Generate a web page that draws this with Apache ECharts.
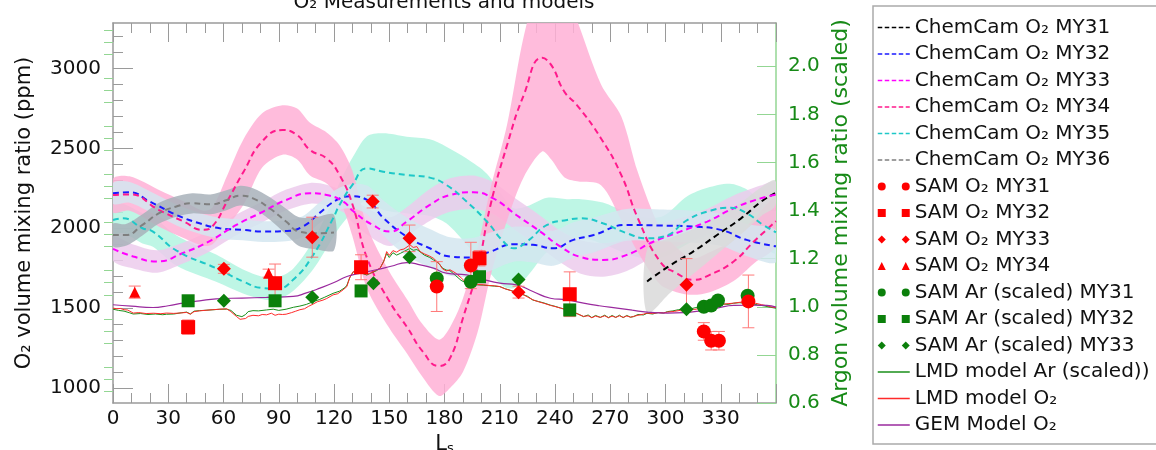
<!DOCTYPE html>
<html><head><meta charset="utf-8">
<script src="https://cdn.jsdelivr.net/npm/echarts@6/dist/echarts.min.js"></script>
<style>html,body{margin:0;padding:0;background:#fff}#c{width:1156px;height:450px}</style>
</head><body><div id="c"></div>
<script>
// ---------- tick labels ----------
const o2MajorTicks = [1000, 1500, 2000, 2500, 3000];
const o2MinorTicks = [1100,1200,1300,1400,1600,1700,1800,1900,2100,2200,2300,2400,2600,2700,2800,2900,3100,3200];
const arMajorTicks = [0.6, 0.8, 1.0, 1.2, 1.4, 1.6, 1.8, 2.0];
const arMinorTicks = [0.65,0.7,0.75,0.85,0.9,0.95,1.05,1.1,1.15,1.25,1.3,1.35,1.45,1.5,1.55,1.65,1.7,1.75,1.85,1.9,1.95,2.05,2.1,2.15];

// ---------- ChemCam O2 (Ls, centre, lower, upper) ----------
const cc31_x  = [290, 303, 315, 328, 341, 352, 359.5];
const cc31_c  = [1667, 1771, 1854, 1958, 2062, 2167, 2219];
const cc31_lo = [1467, 1601, 1714, 1838, 1962, 2077, 2139];
const cc31_hi = [1867, 1941, 1994, 2078, 2162, 2257, 2299];

const cc32_x  = [0, 9, 20, 34.5, 47, 58, 70.5, 81.5, 94, 103, 112, 121.5, 129, 138, 147, 159.5, 172, 183, 194, 205, 217.5, 228, 239, 250, 261, 279, 297, 315, 330, 344, 360];
const cc32_c  = [2219, 2225, 2167, 2083, 2031, 2000, 1990, 1979, 1983, 2010, 2094, 2177, 2200, 2177, 2062, 1948, 1875, 1823, 1817, 1854, 1900, 1896, 1875, 1927, 1958, 2021, 2017, 2010, 1990, 1927, 1887];
const cc32_lo = [2154, 2160, 2102, 2018, 1966, 1935, 1925, 1914, 1918, 1945, 2029, 2110, 2125, 2087, 1952, 1828, 1755, 1703, 1697, 1734, 1790, 1786, 1765, 1817, 1848, 1921, 1917, 1910, 1890, 1827, 1787];
const cc32_hi = [2284, 2290, 2232, 2148, 2096, 2065, 2055, 2044, 2048, 2075, 2159, 2244, 2275, 2267, 2172, 2068, 1995, 1943, 1937, 1974, 2010, 2006, 1985, 2037, 2068, 2121, 2117, 2110, 2090, 2027, 1987];

const cc33_x  = [0, 11, 24, 38, 52, 67, 81.5, 94, 107, 116, 125, 130.5, 141, 150.5, 159.5, 172, 183, 195.6, 206.5, 219, 232, 243, 254, 266, 279, 293.6, 308, 322.7, 337, 351.6, 360];
const cc33_c  = [1871, 1823, 1792, 1845, 1917, 2021, 2104, 2177, 2219, 2208, 2167, 2106, 2021, 1979, 2042, 2146, 2208, 2225, 2187, 2083, 1979, 1885, 1820, 1802, 1833, 1917, 1979, 2042, 2125, 2187, 2210];
const cc33_lo = [1796, 1748, 1722, 1780, 1852, 1956, 2039, 2112, 2154, 2143, 2100, 2031, 1936, 1889, 1952, 2046, 2103, 2120, 2087, 1983, 1879, 1785, 1715, 1697, 1733, 1822, 1894, 1962, 2045, 2107, 2130];
const cc33_hi = [1946, 1898, 1862, 1910, 1982, 2086, 2169, 2242, 2284, 2273, 2234, 2181, 2106, 2069, 2132, 2246, 2313, 2330, 2287, 2183, 2079, 1985, 1925, 1907, 1933, 2012, 2064, 2122, 2205, 2267, 2290];

const cc34_x  = [0, 9, 25, 38, 49, 54, 62, 71, 81, 92, 100, 107, 116, 123, 130, 138, 150, 160, 168, 177, 183, 190, 198, 205, 214, 223, 233, 238, 245, 252, 265, 276, 285, 297, 306, 315, 324, 337, 348, 360];
const cc34_c  = [2208, 2212, 2114, 2044, 1990, 2012, 2169, 2356, 2544, 2615, 2583, 2490, 2437, 2333, 2150, 1812, 1544, 1375, 1231, 1137, 1187, 1437, 1750, 2146, 2521, 2833, 3067, 3021, 2856, 2770, 2562, 2333, 2062, 1792, 1719, 1677, 1708, 1792, 1917, 2044];
const cc34_lo = [2100, 2110, 2010, 1940, 1890, 1900, 2010, 2150, 2380, 2460, 2430, 2330, 2280, 2180, 1950, 1620, 1375, 1210, 1070, 950, 1000, 1100, 1350, 1700, 2050, 2320, 2481, 2430, 2320, 2294, 2270, 2050, 1850, 1650, 1600, 1583, 1600, 1670, 1780, 1890];
const cc34_hi = [2310, 2325, 2240, 2170, 2110, 2130, 2330, 2560, 2720, 2770, 2750, 2660, 2600, 2520, 2360, 2010, 1730, 1550, 1400, 1302, 1380, 1560, 1880, 2250, 2650, 3200, 3600, 3600, 3500, 3300, 2900, 2700, 2350, 2000, 1880, 1812, 1850, 1930, 2060, 2190];

const cc35_x  = [0, 5.4, 16, 21.7, 34.5, 56, 70.6, 81.5, 88.8, 97.8, 108.7, 119.5, 123, 130, 137.8, 146.7, 159.5, 172, 181, 192, 203, 212, 217.5, 224.8, 235.7, 246.5, 254, 266, 279, 290, 299, 312, 322.7, 335, 344, 353, 360];
const cc35_c  = [2052, 2062, 2000, 1979, 1860, 1750, 1667, 1625, 1621, 1677, 1833, 2062, 2146, 2271, 2375, 2354, 2333, 2317, 2271, 2167, 2042, 1917, 1875, 1917, 2021, 2052, 2062, 2031, 1969, 1937, 1948, 2052, 2104, 2129, 2094, 2021, 1975];
const cc35_lo = [1962, 1970, 1905, 1884, 1765, 1665, 1592, 1555, 1551, 1607, 1743, 1942, 2006, 2101, 2175, 2114, 2093, 2077, 2031, 1897, 1742, 1637, 1625, 1697, 1851, 1922, 1942, 1901, 1839, 1807, 1818, 1902, 1954, 1979, 1944, 1881, 1845];
const cc35_hi = [2142, 2154, 2095, 2074, 1955, 1835, 1742, 1695, 1691, 1747, 1923, 2182, 2286, 2441, 2575, 2594, 2573, 2557, 2511, 2437, 2342, 2197, 2125, 2137, 2191, 2182, 2182, 2161, 2099, 2067, 2078, 2202, 2254, 2279, 2244, 2161, 2105];

const cc36_x  = [0, 7, 16, 25, 34, 43, 53, 62, 69, 76, 85, 94, 101, 110, 120];
const cc36_c  = [1958, 1958, 2021, 2094, 2135, 2156, 2150, 2177, 2204, 2187, 2125, 2042, 1979, 1969, 1973];
const cc36_lo = [1888, 1890, 1955, 2029, 2071, 2093, 2088, 2115, 2142, 2123, 2055, 1962, 1889, 1869, 1863];
const cc36_hi = [2028, 2026, 2087, 2159, 2199, 2219, 2212, 2239, 2266, 2251, 2195, 2122, 2069, 2069, 2083];

// ---------- SAM measurements [Ls, value, error] ----------
const samO2_MY31 = [[175.8,1635,156],[194.3,1767,145],[320.8,1354,55],[324.8,1296,58],[329,1296,58],[345,1542,165]];
const samO2_MY32 = [[40.8,1381,45],[88,1656,120],[134.7,1756,78],[199,1812,48],[248,1587,140]];
const samO2_MY33 = [[60.2,1746,28],[108.2,1944,125],[141,2167,40],[161,1937,83],[220.2,1600,37],[311.4,1646,164]];
const samO2_MY34 = [[11.8,1600,38],[84.5,1719,25]];
const samAr_MY31 = [[175.8,1.118],[194.3,1.104],[320.8,1.000],[324.8,1.005],[328.5,1.026],[344.6,1.046]];
const samAr_MY32 = [[40.8,1.025],[88,1.025],[134.7,1.066],[199,1.125],[248,0.987]];
const samAr_MY33 = [[60.2,1.025],[108.2,1.040],[141.4,1.098],[161,1.206],[220.2,1.114],[311.4,0.990]];

// ---------- models ----------
const lmdO2_x = [0,2,4,6,8,11,14,18,22,26,29,33,37,40,42,44,47,50,54,58,61.7,64,67,69,70,72,73.4,76,79,81,83.4,86,88,90,92,94,97,99,101.5,104,106,108.6,111,114,116,119.5,122,125,127,128.5,130.5,133,135,137.8,140,143,145,147,148.6,150,152,154,156,158,161.3,163,165,166.7,169,172,174,177,179,181,183,186,189,192,195,198,201,204,207,210,213,216,219,222,225,228,231,234,237.5,240,243,246.5,249,252,255.5,258,260,262,264.6,267,269,271,273,275,277,279,281,282.6,285,288,290,293,296,299,301,305,309,313,316,319,323,327,331,334,337,340,343,346,349,352,355,358,360];
const lmdO2_y = [1500,1496,1498,1490,1488,1469,1472,1466,1468,1465,1469,1467,1470,1473,1462,1478,1483,1486,1490,1493,1496,1478,1448,1430,1421,1435,1448,1455,1452,1460,1458,1468,1455,1462,1460,1462,1472,1480,1490,1496,1510,1525,1540,1550,1560,1583,1590,1615,1635,1690,1729,1715,1720,1712,1720,1738,1750,1790,1854,1830,1860,1850,1865,1870,1896,1880,1885,1854,1840,1825,1812,1780,1745,1733,1740,1720,1690,1656,1650,1648,1646,1642,1640,1635,1620,1610,1600,1590,1570,1552,1540,1530,1517,1510,1500,1490,1475,1465,1448,1452,1440,1450,1442,1452,1440,1450,1442,1452,1442,1451,1443,1448,1455,1462,1469,1466,1472,1470,1475,1480,1488,1494,1492,1500,1508,1518,1524,1528,1531,1536,1540,1537,1530,1522,1515,1506,1504];
const lmdAr_x = [0,3,6,9,11,15,19,23,27,29,33,37,40,42,44,47,51,55,58,61.7,64,67,70,72,73.4,76,79,83.4,87,90,94,98,101.5,105,108.6,112,115,119.5,123,126,127,128.5,130.5,133,135,137.8,140,143,145,147,148.6,150,152,154,156,158,161.3,163,165,166.7,169,172,174,177,179,181,183,186,189,192,195,198,201,204,207,210,213,216,219,222,225,228,231,234,237.5,240,243,246.5,249,252,255.5,258,260,262,264.6,267,269,271,273,275,277,279,281,282.6,285,288,290,293,296,299,301,304,307,310,313,316,319,323,327,331,334,337,340,344,346,350,354,357,360];
const lmdAr_y = [0.990,0.985,0.982,0.975,0.970,0.972,0.968,0.970,0.967,0.969,0.970,0.975,0.978,0.970,0.982,0.984,0.986,0.988,0.990,0.990,0.985,0.965,0.959,0.968,0.980,0.984,0.983,0.987,0.990,0.985,0.990,0.998,1.003,1.010,1.021,1.030,1.040,1.056,1.065,1.080,1.090,1.120,1.146,1.138,1.140,1.132,1.140,1.150,1.160,1.190,1.222,1.205,1.225,1.215,1.222,1.230,1.243,1.235,1.238,1.229,1.215,1.205,1.195,1.180,1.160,1.153,1.150,1.130,1.110,1.098,1.093,1.091,1.090,1.088,1.086,1.084,1.075,1.068,1.059,1.052,1.044,1.028,1.022,1.016,1.007,1.002,0.995,0.987,0.980,0.972,0.959,0.966,0.955,0.964,0.956,0.965,0.955,0.964,0.956,0.965,0.955,0.964,0.957,0.959,0.968,0.966,0.973,0.970,0.976,0.974,0.980,0.983,0.988,0.992,0.990,0.996,0.998,1.003,1.008,1.012,1.010,1.015,1.017,1.015,1.015,1.008,1.003,0.998,0.994];
const gem_x = [0,10,21.7,30,38,47,56,70,83.4,97.8,105,112.4,120,127,135,143,151,159.5,166.8,174,181,192,201,210,219,228,237.5,246.5,255.5,264,273.7,282,290,301,310,319,328,337,346,355,360];
const gem_y = [1521,1512,1504,1515,1531,1545,1558,1563,1567,1573,1595,1625,1660,1698,1720,1740,1762,1785,1771,1750,1719,1708,1680,1656,1646,1604,1562,1552,1531,1515,1500,1487,1475,1469,1472,1483,1500,1517,1518,1517,1506];

// ---------- helpers ----------
const zip = (xs, ys) => xs.map((x, i) => [x, ys[i]]);
const FONT = 'DejaVu Sans';
// uncertainty band: one polygon built from the band's own data through the axes
const bandSeries = (key, xs, lo, hi, color) => ({
  type:'custom', name:'band'+key, yAxisIndex:0, z:1, silent:true, clip:true,
  data: xs.map((x, i) => [x, lo[i], hi[i]]),
  encode:{x:0, y:[1,2]},
  renderItem: function(params, api){
    if (params.dataIndex !== 0) return null;
    const up = [], dn = [];
    for (let i = 0; i < xs.length; i++) {
      up.push(api.coord([xs[i], hi[i]]));
      dn.push(api.coord([xs[i], lo[i]]));
    }
    const pts = up.concat(dn.reverse());
    return {type:'polygon', shape:{points:pts, smooth:0.3}, style:{fill:color, opacity:0.85}};
  }
});
const ccLine = (name, xs, cs, color) => ({type:'line', name, data: zip(xs, cs), symbol:'none', smooth:true,
  lineStyle:{color, width:2, type:[6,4]}, itemStyle:{color}, z:3, yAxisIndex:0});

const RED = '#ff0000', GREEN = '#0b800b';
const LMDAR = '#1a8f1a', LMDO2 = '#ff2a2a', GEM = '#9a2a9e';
const icons = {
  circle: 'path://M0,4A4,4 0 1,0 8,4A4,4 0 1,0 0,4ZM24,4A4,4 0 1,0 32,4A4,4 0 1,0 24,4Z',
  square: 'path://M0,0H8V8H0ZM24,0H32V8H24Z',
  diamond:'path://M4,0L8,4L4,8L0,4ZM28,0L32,4L28,8L24,4Z',
  triangle:'path://M4,0L8,8L0,8ZM28,0L32,8L24,8Z'
};
const allO2 = samO2_MY31.concat(samO2_MY32, samO2_MY33, samO2_MY34);

const series = [
  bandSeries('35', cc35_x, cc35_lo, cc35_hi, '#b3f5e1'),
  bandSeries('33', cc33_x, cc33_lo, cc33_hi, '#eccbec'),
  bandSeries('34', cc34_x, cc34_lo, cc34_hi, '#ffb0d6'),
  bandSeries('32', cc32_x, cc32_lo, cc32_hi, '#d3e6f0'),
  bandSeries('36', cc36_x, cc36_lo, cc36_hi, '#a8b1ba'),
  bandSeries('31', cc31_x, cc31_lo, cc31_hi, '#d9d9d9'),
  ccLine('ChemCam O₂ MY31', cc31_x, cc31_c, '#000000'),
  ccLine('ChemCam O₂ MY32', cc32_x, cc32_c, '#1a1aff'),
  ccLine('ChemCam O₂ MY33', cc33_x, cc33_c, '#ff00ff'),
  ccLine('ChemCam O₂ MY34', cc34_x, cc34_c, '#ff1a8c'),
  ccLine('ChemCam O₂ MY35', cc35_x, cc35_c, '#1ec8c8'),
  ccLine('ChemCam O₂ MY36', cc36_x, cc36_c, '#7f7f7f'),
  {type:'line', name:'LMD model Ar (scaled))', data: zip(lmdAr_x, lmdAr_y), yAxisIndex:1, symbol:'none',
   lineStyle:{color:LMDAR, width:1}, itemStyle:{color:LMDAR}, z:4},
  {type:'line', name:'LMD model O₂', data: zip(lmdO2_x, lmdO2_y), yAxisIndex:0, symbol:'none',
   lineStyle:{color:LMDO2, width:1}, itemStyle:{color:LMDO2}, z:4},
  {type:'line', name:'GEM Model O₂', data: zip(gem_x, gem_y), yAxisIndex:0, symbol:'none', smooth:true,
   lineStyle:{color:GEM, width:1.2}, itemStyle:{color:GEM}, z:4},
  {type:'custom', name:'errbars', data: allO2, yAxisIndex:0, z:5, silent:true, encode:{x:0, y:1},
   renderItem: function(params, api){
     const x = api.value(0), y = api.value(1), e = api.value(2);
     const t = api.coord([x, y + e]), b = api.coord([x, y - e]);
     const w = 6, st = {stroke:'#ff7878', lineWidth:1};
     return {type:'group', children:[
       {type:'line', shape:{x1:t[0], y1:t[1], x2:b[0], y2:b[1]}, style:st},
       {type:'line', shape:{x1:t[0]-w, y1:t[1], x2:t[0]+w, y2:t[1]}, style:st},
       {type:'line', shape:{x1:b[0]-w, y1:b[1], x2:b[0]+w, y2:b[1]}, style:st}
     ]};
   }},
  {type:'scatter', name:'SAM Ar (scaled) MY31', data: samAr_MY31, yAxisIndex:1, symbol:'circle', symbolSize:14, itemStyle:{color:GREEN, opacity:1}, z:6},
  {type:'scatter', name:'SAM Ar (scaled) MY32', data: samAr_MY32, yAxisIndex:1, symbol:'rect', symbolSize:13, itemStyle:{color:GREEN, opacity:1}, z:6},
  {type:'scatter', name:'SAM Ar (scaled) MY33', data: samAr_MY33, yAxisIndex:1, symbol:'diamond', symbolSize:14, itemStyle:{color:GREEN, opacity:1}, z:6},
  {type:'scatter', name:'SAM O₂ MY31', data: samO2_MY31, yAxisIndex:0, symbol:'circle', symbolSize:14, itemStyle:{color:RED, opacity:1}, z:7, encode:{x:0,y:1}},
  {type:'scatter', name:'SAM O₂ MY32', data: samO2_MY32, yAxisIndex:0, symbol:'rect', symbolSize:14, itemStyle:{color:RED, opacity:1}, z:7, encode:{x:0,y:1}},
  {type:'scatter', name:'SAM O₂ MY33', data: samO2_MY33, yAxisIndex:0, symbol:'diamond', symbolSize:14, itemStyle:{color:RED, opacity:1}, z:7, encode:{x:0,y:1}},
  {type:'scatter', name:'SAM O₂ MY34', data: samO2_MY34, yAxisIndex:0, symbol:'triangle', symbolSize:11, itemStyle:{color:RED, opacity:1}, z:7, encode:{x:0,y:1}}
];

const gray = '#9a9a9a', lgreen = '#93d693', dgreen = '#178a17';
const xAxisBase = {type:'value', min:0, max:360, interval:30, gridIndex:0,
  axisLine:{show:true, onZero:false, lineStyle:{color:gray, width:1.5}},
  axisTick:{show:true, inside:true, length:19, lineStyle:{color:gray, width:1}},
  minorTick:{show:true, splitNumber:3, length:10, lineStyle:{color:gray, width:1}},
  splitLine:{show:false}, minorSplitLine:{show:false}};

const dashLegend = (name) => ({name, itemStyle:{opacity:0}, lineStyle:{width:1.5, type:[4.5,2.5]}});
const solidLegend = (name, color) => ({name, itemStyle:{opacity:0}, lineStyle:{width:1.3, color:color, type:'solid'}});

const option = {
  animation:false,
  backgroundColor:'#ffffff',
  textStyle:{fontFamily:FONT},
  title:{text:'O₂ Measurements and models', left:444, textAlign:'center', top:-7, padding:0,
    textStyle:{fontFamily:FONT, fontSize:20, fontWeight:'normal', color:'#111'}},
  grid:{left:113, right:380, top:23, bottom:47, containLabel:false, outerBoundsMode:'none'},
  legend:{
    orient:'vertical', left:873, top:6, height:450, padding:[10.5,20,8,4], itemGap:4.5, itemWidth:32, itemHeight:8,
    borderColor:'#ababab', borderWidth:1.5, backgroundColor:'#fff', selectedMode:false,
    textStyle:{fontFamily:FONT, fontSize:20, color:'#111', lineHeight:22},
    data:[
      dashLegend('ChemCam O₂ MY31'), dashLegend('ChemCam O₂ MY32'), dashLegend('ChemCam O₂ MY33'),
      dashLegend('ChemCam O₂ MY34'), dashLegend('ChemCam O₂ MY35'), dashLegend('ChemCam O₂ MY36'),
      {name:'SAM O₂ MY31', icon:icons.circle},
      {name:'SAM O₂ MY32', icon:icons.square},
      {name:'SAM O₂ MY33', icon:icons.diamond},
      {name:'SAM O₂ MY34', icon:icons.triangle},
      {name:'SAM Ar (scaled) MY31', icon:icons.circle},
      {name:'SAM Ar (scaled) MY32', icon:icons.square},
      {name:'SAM Ar (scaled) MY33', icon:icons.diamond},
      solidLegend('LMD model Ar (scaled))', LMDAR), solidLegend('LMD model O₂', LMDO2), solidLegend('GEM Model O₂', GEM)
    ]
  },
  xAxis:[
    Object.assign({}, xAxisBase, {position:'bottom',
      axisLabel:{show:true, fontSize:20, color:'#111', margin:6, showMaxLabel:false, fontFamily:FONT},
      name:'L{s|s}', nameLocation:'middle', nameGap:28,
      nameTextStyle:{fontSize:21, color:'#111', fontFamily:FONT,
        rich:{s:{fontSize:13, verticalAlign:'bottom', padding:[8,0,0,0], color:'#111', fontFamily:FONT}}}}),
    Object.assign({}, xAxisBase, {position:'top', axisLabel:{show:false}})
  ],
  yAxis:[
    {type:'value', min:906, max:3285, position:'left',
     axisLine:{show:true, onZero:false, lineStyle:{color:gray, width:1.5}},
     axisTick:{show:true, inside:true, length:20, customValues:o2MajorTicks, lineStyle:{color:gray}},
     axisLabel:{show:true, customValues:o2MajorTicks, fontSize:20, color:'#111', margin:12, fontFamily:FONT,
       formatter:(v)=>String(v)},
     splitLine:{show:false},
     name:'O₂ volume mixing ratio (ppm)', nameLocation:'middle', nameGap:78,
     nameTextStyle:{fontSize:21, color:'#111', fontFamily:FONT}},
    {type:'value', min:0.6, max:2.18, position:'right',
     axisLine:{show:true, onZero:false, lineStyle:{color:lgreen, width:1.5}},
     axisTick:{show:true, inside:true, length:19, customValues:arMajorTicks, lineStyle:{color:lgreen}},
     axisLabel:{show:true, customValues:arMajorTicks, fontSize:20, color:dgreen, margin:12, fontFamily:FONT,
       formatter:(v)=>v.toFixed(1)},
     splitLine:{show:false},
     name:'Argon volume mixing ratio (scaled)', nameLocation:'middle', nameGap:54,
     nameTextStyle:{fontSize:22, color:dgreen, fontFamily:FONT}},
    {type:'value', min:906, max:3285, position:'left',
     axisLine:{show:false}, axisLabel:{show:false}, splitLine:{show:false},
     axisTick:{show:true, inside:true, length:10, customValues:o2MinorTicks, lineStyle:{color:gray}}},
    {type:'value', min:0.6, max:2.18, position:'right',
     axisLine:{show:false}, axisLabel:{show:false}, splitLine:{show:false},
     axisTick:{show:true, inside:true, length:9, customValues:arMinorTicks, lineStyle:{color:lgreen}}}
  ],
  series: series
};

const chart = echarts.init(document.getElementById('c'), null, {renderer:'canvas'});
chart.setOption(option);
</script>
</body></html>
